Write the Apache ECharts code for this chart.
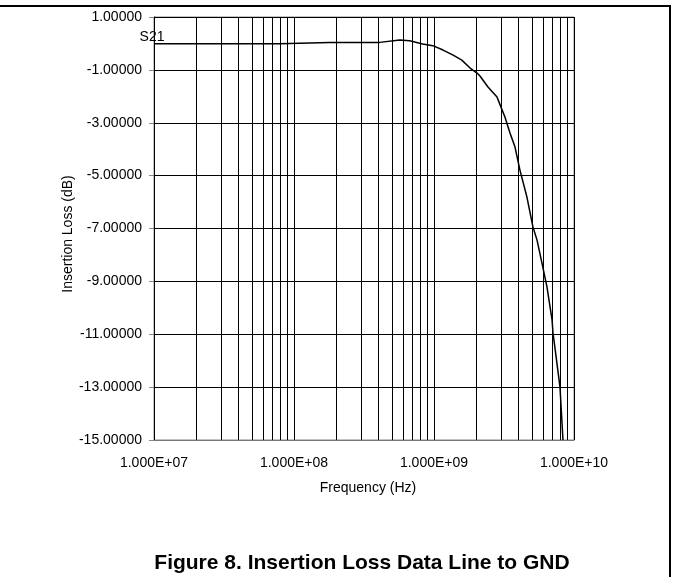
<!DOCTYPE html>
<html>
<head>
<meta charset="utf-8">
<script src="https://cdn.jsdelivr.net/npm/echarts@6/dist/echarts.min.js"></script>
<style>
html,body{margin:0;padding:0;background:#fff;}
#chart{width:673px;height:577px;}
</style>
</head>
<body>
<div id="chart"></div>
<script>
// Frequency (Hz) and S21 insertion loss (dB)
const freqs = [1e7, 7.9e7, 1.8e8, 4.1e8, 5.7e8, 6.7e8, 8.3e8, 9.8e8, 1.16e9, 1.37e9, 1.58e9, 1.81e9, 2.03e9, 2.13e9, 2.43e9, 2.82e9, 3.21e9, 3.49e9, 3.79e9, 4.11e9, 4.61e9, 5.09e9, 5.44e9, 5.9e9, 6.41e9, 6.97e9, 7.08e9, 7.94e9, 8.34e9];
const s21 = [-0.01, -0.01, 0.035, 0.04, 0.13, 0.10, -0.02, -0.085, -0.25, -0.44, -0.63, -0.93, -1.12, -1.23, -1.65, -2.03, -2.78, -3.39, -3.92, -4.79, -5.81, -6.94, -7.43, -8.30, -9.21, -10.46, -10.95, -12.99, -15.0];
const seriesName = 'S21';
const minorGridFreqs = [];
[1e7, 1e8, 1e9].forEach(d => { for (let k = 2; k <= 9; k++) minorGridFreqs.push(k * d); });
const yMin = -15, yMax = 1, yStep = 2;
const xMin = 1e7, xMax = 1e10;

const FONT = 'Liberation Sans, Arial, sans-serif';
function expFmt(v) {
  const e = Math.round(Math.log10(v));
  const m = v / Math.pow(10, e);
  return m.toFixed(3) + 'E+' + (e < 10 ? '0' + e : '' + e);
}

const chart = echarts.init(document.getElementById('chart'), null, {renderer: 'canvas'});
chart.setOption({
  backgroundColor: '#fff',
  animation: false,
  grid: {left: 154, right: 99, top: 17, bottom: 137, show: true, borderColor: '#888', borderWidth: 1},
  xAxis: {
    type: 'log', logBase: 10, min: xMin, max: xMax,
    name: 'Frequency (Hz)', nameLocation: 'middle', nameGap: 41,
    nameTextStyle: {fontFamily: FONT, fontSize: 14, color: '#000', padding: [0, 0, 0, 8]},
    axisLine: {show: true, onZero: false, lineStyle: {color: '#777', width: 1}},
    axisTick: {show: false},
    axisLabel: {formatter: expFmt, fontFamily: FONT, fontSize: 14, color: '#000', margin: 16},
    splitLine: {show: true, lineStyle: {color: '#000', width: 1}},
    minorTick: {show: false}, minorSplitLine: {show: false}
  },
  yAxis: {
    type: 'value', min: yMin, max: yMax, interval: yStep,
    axisLine: {show: true, lineStyle: {color: '#000', width: 1}},
    axisTick: {show: true, length: 5, lineStyle: {color: '#888'}},
    axisLabel: {formatter: v => v.toFixed(5), fontFamily: FONT, fontSize: 14, color: '#000', margin: 12},
    splitLine: {show: true, lineStyle: {color: '#000', width: 1}}
  },
  series: [{
    name: seriesName, type: 'line', showSymbol: false, symbol: 'none',
    lineStyle: {color: '#000', width: 1.5},
    data: freqs.map((f, i) => [f, s21[i]]),
    markLine: {
      silent: true, symbol: 'none', animation: false,
      label: {show: false},
      lineStyle: {color: '#000', width: 1, type: 'solid'},
      data: minorGridFreqs.map(f => ({xAxis: f}))
    },
    markPoint: {
      silent: true, animation: false,
      data: [{coord: [freqs[0], s21[0]], symbol: 'circle', symbolSize: 0,
        label: {show: true, formatter: seriesName, position: 'top', distance: 0, offset: [-2, 0], fontFamily: FONT, fontSize: 14, color: '#000'}}]
    },
    z: 5
  }],
  graphic: [
    {type: 'text', x: 68, y: 234, rotation: Math.PI / 2, style: {text: 'Insertion Loss (dB)', font: '14px ' + FONT, fill: '#000', align: 'center', verticalAlign: 'middle'}},
    {type: 'text', x: 362, y: 563, style: {text: 'Figure 8. Insertion Loss Data Line to GND', font: 'bold 21px ' + FONT, fill: '#000', align: 'center', verticalAlign: 'middle'}},
    {type: 'line', shape: {x1: 0, y1: 6, x2: 671, y2: 6}, style: {stroke: '#000', lineWidth: 2}},
    {type: 'line', shape: {x1: 670, y1: 6, x2: 670, y2: 577}, style: {stroke: '#000', lineWidth: 2}}
  ]
});
</script>
</body>
</html>
